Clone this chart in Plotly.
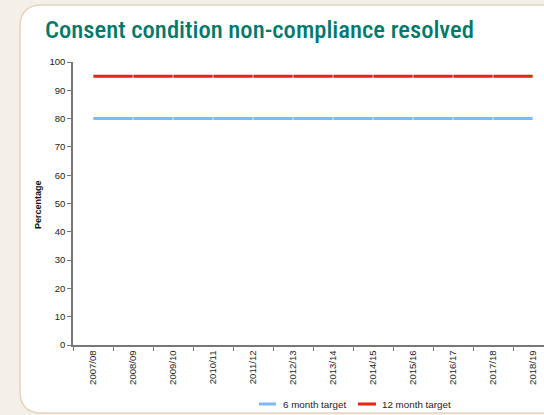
import plotly.graph_objects as go

categories = ["2007/08", "2008/09", "2009/10", "2010/11", "2011/12", "2012/13",
              "2013/14", "2014/15", "2015/16", "2016/17", "2017/18", "2018/19"]
six_month_target = [80] * 12
twelve_month_target = [95] * 12
series_names = ["6 month target", "12 month target"]
series_colors = ["#7DB9F5", "#E8230E"]

W, H = 544, 415
L, R, T, B = 73, 0, 62, 70
pw = W - L - R
ph = H - T - B

def px(x):
    return (x - L) / pw

def py(y):
    return (H - B - y) / ph

fig = go.Figure()
for vals, name, col in zip([six_month_target, twelve_month_target], series_names, series_colors):
    fig.add_trace(go.Scatter(
        x=categories, y=vals, name=name, mode="lines+markers", showlegend=False,
        line=dict(color=col, width=3),
        marker=dict(symbol="line-ns-open", size=4, color="rgba(255,255,255,0.7)",
                    line=dict(color="rgba(255,255,255,0.7)", width=1)),
        hoverinfo="skip",
    ))

# white rounded panel
x0, y0, x1, y1, r = 20, 5, 560, 413, 22
path = (f"M {px(x0)} {py(y0 + r)} "
        f"Q {px(x0)} {py(y0)} {px(x0 + r)} {py(y0)} "
        f"L {px(x1)} {py(y0)} L {px(x1)} {py(y1)} "
        f"L {px(x0 + r)} {py(y1)} "
        f"Q {px(x0)} {py(y1)} {px(x0)} {py(y1 - r)} Z")
fig.add_shape(type="path", xref="paper", yref="paper", path=path,
              fillcolor="white", line=dict(color="#E3D5BF", width=1.5), layer="below")

fig.add_annotation(
    text="Consent condition non-compliance resolved", xref="paper", yref="paper",
    x=px(43), y=py(29), xanchor="left", yanchor="middle", showarrow=False,
    font=dict(family="Roboto Condensed, Liberation Sans", size=24.6, weight=500, color="#00796C"),
)

# legend (manual, short swatches)
legend_items = [(259, 276, 281), (358, 376, 380)]
for (lx0, lx1, tx), name, col in zip(legend_items, series_names, series_colors):
    fig.add_shape(type="line", xref="paper", yref="paper",
                  x0=px(lx0), x1=px(lx1), y0=py(404), y1=py(404),
                  line=dict(color=col, width=3))
    fig.add_annotation(text=name, xref="paper", yref="paper", x=px(tx), y=py(404),
                       xanchor="left", yanchor="middle", showarrow=False,
                       font=dict(size=9.8, color="#222"))

fig.add_annotation(text="<b>Percentage</b>", xref="paper", yref="paper",
                   x=px(38), y=py(205), textangle=-90, showarrow=False,
                   xanchor="center", yanchor="middle", font=dict(size=9, color="#111"))

fig.update_layout(
    width=W, height=H,
    margin=dict(l=L, r=R, t=T, b=B, autoexpand=False),
    paper_bgcolor="#F4EFE8",
    plot_bgcolor="rgba(0,0,0,0)",
    font=dict(family="Liberation Sans, Arial, sans-serif", size=9, color="#222"),
    showlegend=False,
)
fig.update_xaxes(
    type="category", range=[-0.5, -0.5 + pw / 40], tickson="boundaries",
    ticks="outside", ticklen=4, tickcolor="#777", tickangle=-90, automargin=False,
    showline=True, linecolor="#777", linewidth=1.5, showgrid=False, zeroline=False,
    tickfont=dict(size=9.5),
)
fig.update_yaxes(
    range=[0, 100], dtick=10, ticks="outside", ticklen=4, tickcolor="#777", automargin=False,
    showline=True, linecolor="#777", linewidth=1.5, showgrid=False, zeroline=False,
    tickfont=dict(size=9.5),
)

fig.write_html("out.html", config={"displayModeBar": False},
               post_script="document.body.style.margin='0';document.body.style.overflow='hidden';")
